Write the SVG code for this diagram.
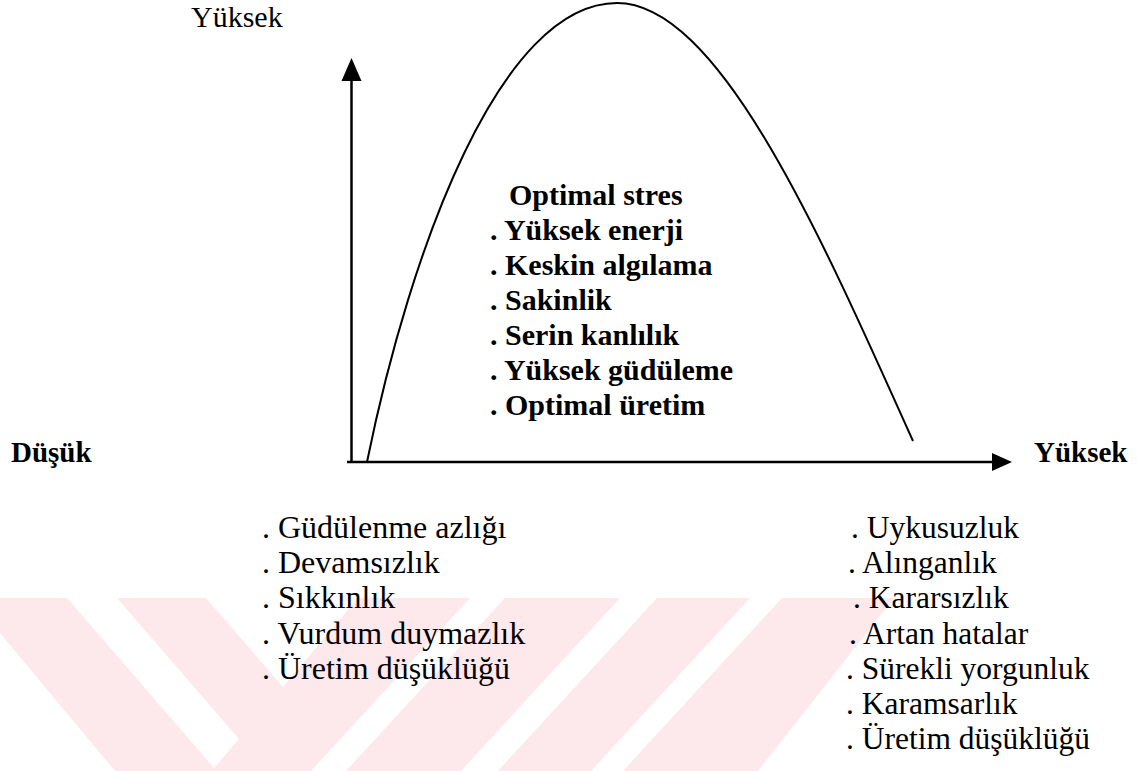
<svg xmlns="http://www.w3.org/2000/svg" width="1146" height="771" viewBox="0 0 1146 771">
<style>
.t{font-family:"Liberation Serif","Times New Roman",serif;fill:#000}
.l{font-size:32px}
.r{font-size:31.5px}
.b{font-size:30px;font-weight:bold}
.lb{font-size:29px;font-weight:bold}
.wm{fill:#fde8ec}
.wh{fill:#ffffff}
.ax{stroke:#000;stroke-width:2.5;fill:none}
</style>
<rect width="1146" height="771" fill="#fff"/>
<g id="watermark">
<polygon class="wm" points="0,598 894,598 758,771 0,771"/>
<polygon class="wh" points="0,633 115,771 0,771"/>
<polygon class="wh" points="67,598 117,598 239,739 214,768"/>
<polygon class="wh" points="206,598 358,598 283,687"/>
<polygon class="wh" points="470,598 505,598 346,771 311,771"/>
<polygon class="wh" points="620,598 657,598 498,771 461,771"/>
<polygon class="wh" points="750,598 782,598 623,771 591,771"/>
</g>
<g id="connectors">
<line class="ax" x1="351.5" y1="462" x2="351.5" y2="75"/>
<polygon points="351.5,58 341.5,81 361.5,81" fill="#000"/>
<line class="ax" x1="347" y1="462" x2="995" y2="462"/>
<polygon points="1012,462 992,453 992,471" fill="#000"/>
</g>
<g id="curve">
<path d="M367,462 C410,250 500,3 617,3 C720,3 823,241 913,441" fill="none" stroke="#000" stroke-width="2"/>
</g>
<g id="axis-labels">
<text class="t" x="191" y="27" style="font-size:30px">Yüksek</text>
<text class="t lb" x="11" y="462">Düşük</text>
<text class="t lb" x="1034" y="462">Yüksek</text>
</g>
<g id="optimal">
<text class="t b" x="509" y="205">Optimal stres</text>
<text class="t b" x="490" y="240">. Yüksek enerji</text>
<text class="t b" x="490" y="275">. Keskin algılama</text>
<text class="t b" x="490" y="310">. Sakinlik</text>
<text class="t b" x="490" y="345">. Serin kanlılık</text>
<text class="t b" x="490" y="380">. Yüksek güdüleme</text>
<text class="t b" x="490" y="415">. Optimal üretim</text>
</g>
<g id="low-stress">
<text class="t l" x="262" y="538">. Güdülenme azlığı</text>
<text class="t l" x="262" y="573">. Devamsızlık</text>
<text class="t l" x="262" y="608">. Sıkkınlık</text>
<text class="t l" x="262" y="644">. Vurdum duymazlık</text>
<text class="t l" x="262" y="679">. Üretim düşüklüğü</text>
</g>
<g id="high-stress">
<text class="t r" x="851" y="538">. Uykusuzluk</text>
<text class="t r" x="848" y="573">. Alınganlık</text>
<text class="t r" x="853" y="608">. Kararsızlık</text>
<text class="t r" x="849" y="644">. Artan hatalar</text>
<text class="t r" x="846" y="679">. Sürekli yorgunluk</text>
<text class="t r" x="846" y="714">. Karamsarlık</text>
<text class="t r" x="846" y="749">. Üretim düşüklüğü</text>
</g>
</svg>
